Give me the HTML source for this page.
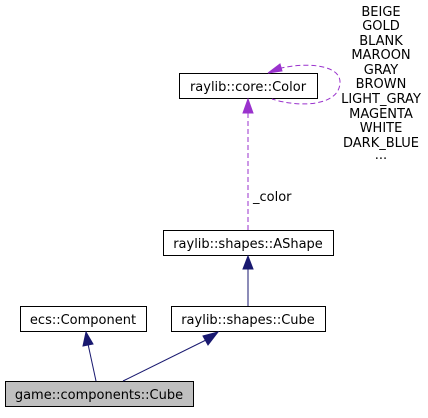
<!DOCTYPE html>
<html><head><style>body{margin:0;background:#fff}</style></head><body>
<svg width="428" height="413" xmlns="http://www.w3.org/2000/svg" font-family="DejaVu Sans, Liberation Sans, sans-serif" font-size="13">
<rect width="428" height="413" fill="#fff"/>
<!-- Color -->
<rect x="179.5" y="73.5" width="138" height="25" fill="#fff" stroke="#000"/>
<text x="248" y="91" text-anchor="middle">raylib::core::Color</text>
<!-- self loop -->
<path d="M272,71 C295,62 340,62 340,82 C340,106 300,108 272,99" fill="none" stroke="#9a32cd" stroke-dasharray="5,3"/>
<polygon points="268,73 280,64 282,71" fill="#9a32cd" stroke="#9a32cd"/>
<g text-anchor="middle" font-size="13">
<text x="381" y="16">BEIGE</text><text x="381" y="30">GOLD</text><text x="381" y="45">BLANK</text>
<text x="381" y="59">MAROON</text><text x="381" y="74">GRAY</text><text x="381" y="88">BROWN</text>
<text x="381" y="103">LIGHT_GRAY</text><text x="381" y="118">MAGENTA</text><text x="381" y="132">WHITE</text>
<text x="381" y="147">DARK_BLUE</text><text x="381" y="159">...</text>
</g>
<!-- color dashed -->
<line x1="248" y1="230" x2="248" y2="112" stroke="#9a32cd" stroke-dasharray="5,3"/>
<polygon points="243,113 253,113 248,99" fill="#9a32cd" stroke="#9a32cd"/>
<text x="253" y="201">_color</text>
<!-- AShape -->
<rect x="163.5" y="230.5" width="170" height="25" fill="#fff" stroke="#000"/>
<text x="248" y="248" text-anchor="middle">raylib::shapes::AShape</text>
<line x1="248" y1="307" x2="248" y2="268" stroke="#191970"/>
<polygon points="243,269 253,269 248,256" fill="#191970" stroke="#191970"/>
<!-- shapes Cube -->
<rect x="171.5" y="306.5" width="154" height="25" fill="#fff" stroke="#000"/>
<text x="248" y="324" text-anchor="middle">raylib::shapes::Cube</text>
<!-- Component -->
<rect x="20.5" y="306.5" width="126" height="25" fill="#fff" stroke="#000"/>
<text x="83" y="324" text-anchor="middle">ecs::Component</text>
<!-- game -->
<rect x="5.5" y="381.5" width="188" height="25" fill="#bfbfbf" stroke="#000"/>
<text x="99" y="399" text-anchor="middle">game::components::Cube</text>
<line x1="96" y1="381" x2="88" y2="344" stroke="#191970"/>
<polygon points="83,346 93,344 86,332" fill="#191970" stroke="#191970"/>
<line x1="123" y1="381" x2="206" y2="340" stroke="#191970"/>
<polygon points="203,336 208,345 218,332" fill="#191970" stroke="#191970"/>
</svg>
</body></html>
